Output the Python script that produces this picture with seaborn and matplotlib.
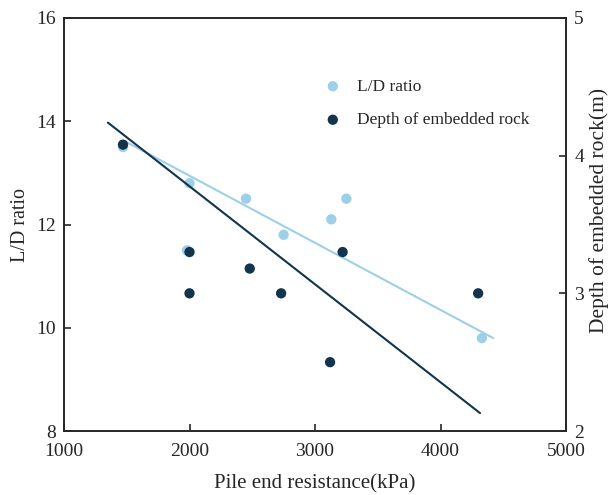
import numpy as np
import pandas as pd
import matplotlib
matplotlib.use("Agg")
import matplotlib.pyplot as plt
import seaborn as sns

# values
ld_resistance = [1470, 2000, 1980, 2450, 2750, 3130, 3250, 4330]
ld_ratio = [13.5, 12.8, 11.5, 12.5, 11.8, 12.1, 12.5, 9.8]

rock_resistance = [1470, 2000, 2000, 2480, 2730, 3120, 3220, 4300]
rock_depth = [4.08, 3.3, 3.0, 3.18, 3.0, 2.5, 3.3, 3.0]

# trend lines as drawn in the figure (end points)
ld_trend_x = [1480, 4420]
ld_trend_y = [13.62, 9.80]
rock_trend_x = [1350, 4315]
rock_trend_y = [4.24, 2.13]

light = "#9dcfe9"
dark = "#12344d"

sns.set_style("ticks")
plt.rcParams["font.family"] = ["Liberation Serif", "DejaVu Serif"]
plt.rcParams["xtick.direction"] = "in"
plt.rcParams["ytick.direction"] = "in"

fig, ax = plt.subplots(figsize=(6.11, 4.95), dpi=100)
fig.subplots_adjust(left=64 / 611, right=566 / 611, bottom=1 - 431 / 495, top=1 - 18 / 495)
ax2 = ax.twinx()

ld_df = pd.DataFrame({"x": ld_resistance, "y": ld_ratio})
rock_df = pd.DataFrame({"x": rock_resistance, "y": rock_depth})

sns.lineplot(x=ld_trend_x, y=ld_trend_y, ax=ax, color=light, linewidth=1.5)
sns.scatterplot(data=ld_df, x="x", y="y", ax=ax, color=light, s=55,
                edgecolor="none", label="L/D ratio", zorder=3)

sns.lineplot(x=rock_trend_x, y=rock_trend_y, ax=ax2, color=dark, linewidth=1.5)
sns.scatterplot(data=rock_df, x="x", y="y", ax=ax2, color=dark, s=55,
                edgecolor="none", label="Depth of embedded rock", zorder=3)

ax.set_xlim(1000, 5000)
ax.set_ylim(8, 16)
ax2.set_ylim(2, 5)
ax.set_xticks(range(1000, 5001, 1000))
ax.set_yticks(range(8, 17, 2))
ax2.set_yticks([2, 3, 4, 5])

ax.set_xlabel("Pile end resistance(kPa)", fontsize=15, labelpad=10)
ax.set_ylabel("L/D ratio", fontsize=14.5, labelpad=4)
ax2.set_ylabel("Depth of embedded rock(m)", fontsize=15.5)
ax2.yaxis.set_label_coords(1.046, 0.533)
ax.tick_params(axis="x", labelsize=14, length=5, width=1.2, pad=9)
ax.tick_params(axis="y", labelsize=14, length=5, width=1.2, pad=6)
ax2.tick_params(labelsize=14, length=5, width=1.2, pad=6)
for a in (ax, ax2):
    for sp in a.spines.values():
        sp.set_visible(True)
        sp.set_linewidth(1.2)

h1, l1 = ax.get_legend_handles_labels()
h2, l2 = ax2.get_legend_handles_labels()
if ax2.get_legend():
    ax2.get_legend().remove()
ax.legend(h1 + h2, l1 + l2, frameon=False, fontsize=12.5, loc="upper left",
          bbox_to_anchor=(305 / 611, 1 - 63 / 495), bbox_transform=fig.transFigure,
          labelspacing=1.0, handlelength=1.4, handletextpad=0.7)

fig.savefig("out.png", dpi=100)
